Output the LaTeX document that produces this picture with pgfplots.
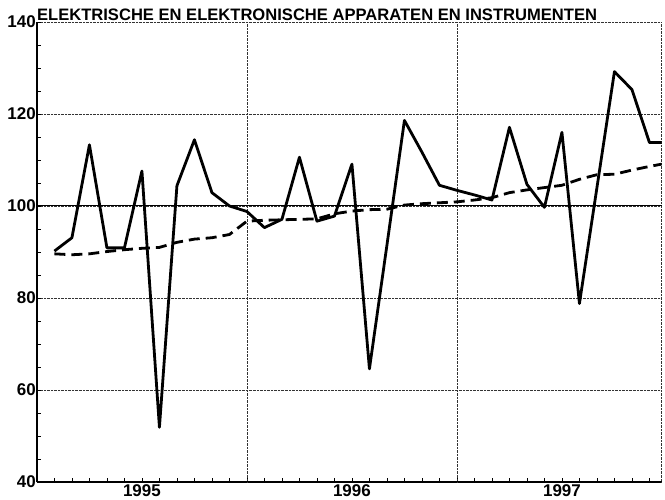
\documentclass[border=0pt]{standalone}
\usepackage{fontspec}
\setmainfont{Liberation Sans}
\usepackage{pgfplots}
\pgfplotsset{compat=1.18}
\begin{document}
\begin{tikzpicture}
\begin{axis}[
  scale only axis, width=626bp, height=461bp,
  xmin=0, xmax=35.7, ymin=40, ymax=140,
  axis x line*=bottom, axis y line*=left,
  axis line style={-, black, line width=1.3bp},
  ytick={40,60,...,140},
  minor y tick num=3,
  xtick={6,18,30}, xticklabels={1995,1996,1997},
  minor xtick={1,...,35},
  major x tick style={draw=none},
  tick align=inside,
  major tick length=4bp, minor tick length=4bp,
  tick style={black, line width=0.8bp},
  ymajorgrids, grid style={black!80, densely dotted, line width=0.6bp},
  extra x ticks={12,24,35.7}, extra x tick labels={},
  extra x tick style={grid=major},
  extra y ticks={100}, extra y tick labels={},
  extra y tick style={grid=major, major grid style={solid, black, line width=1bp}},
  ticklabel style={font=\bfseries\fontsize{17bp}{17bp}\selectfont},
  /pgf/number format/assume math mode=true,
  yticklabel style={inner xsep=1bp},
  xticklabel style={inner ysep=2bp},
]
\addplot[black, line width=2.8bp, line join=round] coordinates {
(1,90.2) (2,93.1) (3,113.3) (4,90.9) (5,90.9) (6,107.6) (7,51.9) (8,104.4)
(9,114.4) (10,102.9) (11,100.0) (12,98.8) (13,95.3) (14,97.1) (15,110.6)
(16,96.7) (17,97.8) (18,109.1) (19,64.6) (20,91.5) (21,118.6) (22,111.7)
(23,104.5) (24,103.4) (25,102.4) (26,101.3) (27,117.1) (28,104.7) (29,99.7)
(30,116.0) (31,78.8) (32,104.0) (33,129.2) (34,125.3) (35,113.8) (35.7,113.8)
};
\addplot[black, line width=2.8bp, dash pattern=on 11bp off 6bp] coordinates {
(1,89.6) (2,89.4) (3,89.6) (4,90.1) (5,90.5) (6,90.8) (7,91.0) (8,92.1)
(9,92.8) (10,93.1) (11,93.8) (12,96.7) (13,96.9) (14,97.0) (15,97.1)
(16,97.2) (17,98.3) (18,98.9) (19,99.2) (20,99.3) (21,100.2) (22,100.5)
(23,100.7) (24,100.9) (25,101.3) (26,101.8) (27,102.9) (28,103.5) (29,104.0)
(30,104.5) (31,105.8) (32,106.8) (33,106.9) (34,107.8) (35,108.6) (35.7,109.1)
};
\end{axis}
\node[anchor=base west, inner sep=0pt, font=\bfseries\fontsize{16.6bp}{16.6bp}\selectfont]
  at ([yshift=1.5bp]current axis.north west) {ELEKTRISCHE EN ELEKTRONISCHE APPARATEN EN INSTRUMENTEN};
\path ([xshift=-37bp,yshift=-17bp]current axis.south west) rectangle ([xshift=2bp,yshift=22bp]current axis.north east);
\end{tikzpicture}
\end{document}
